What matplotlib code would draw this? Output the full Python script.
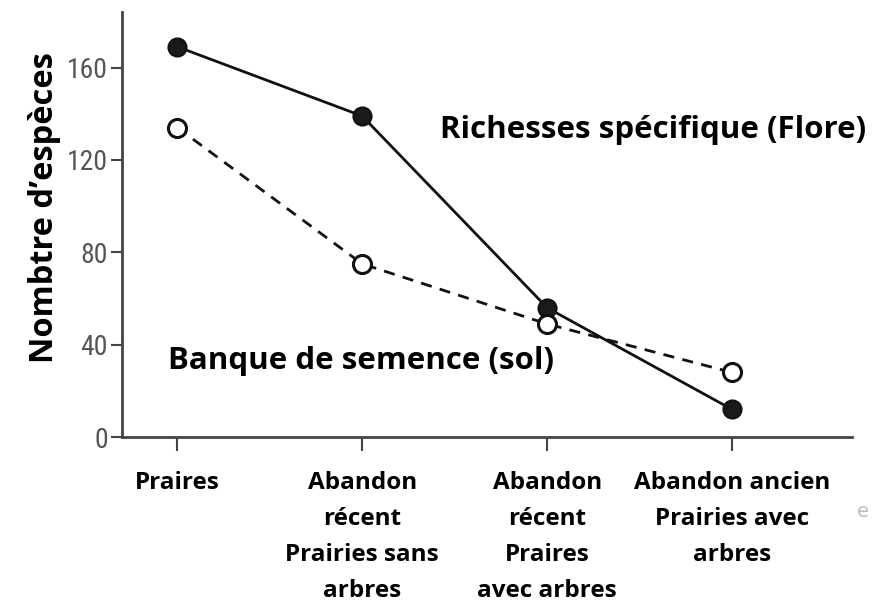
import matplotlib
matplotlib.use("Agg")
import matplotlib.pyplot as plt

categories = ["Praires",
              "Abandon\nrécent\nPrairies sans\narbres",
              "Abandon\nrécent\nPraires\navec arbres",
              "Abandon ancien\nPrairies avec\narbres"]
richesse = [169, 139, 56, 12]
banque = [134, 75, 49, 28]
yticks = [0, 40, 80, 120, 160]

bold = ['Open Sans', 'DejaVu Sans']
narrow = ['Roboto Condensed', 'Liberation Sans Narrow', 'Roboto', 'DejaVu Sans']

fig = plt.figure(figsize=(8.76, 6.03), dpi=100)
ax = fig.add_axes([0.139, 0.275, 0.834, 0.705])
x = list(range(len(categories)))

ax.plot(x, richesse, '-', color='#111111', lw=2, marker='o', ms=13,
        mfc='#1a1a1a', mec='#111111', mew=1.5, zorder=3)
ax.plot(x, banque, '--', color='#111111', lw=2, dashes=(4, 3), marker='o', ms=13,
        mfc='white', mec='#111111', mew=2.2, zorder=3)

ax.set_xlim(-0.3, 3.65)
ax.set_ylim(0, 184)
ax.set_yticks(yticks)
ax.set_yticklabels([str(v) for v in yticks], family=narrow, fontsize=20, color='#555555')
ax.set_xticks(x)
ax.set_xticklabels(categories, family=bold, fontweight='bold',
                   fontsize=17.5, linespacing=1.68, va='top')
ax.tick_params(axis='x', length=10, width=1.5, color='#444444', pad=14)
ax.tick_params(axis='y', length=8, width=1.5, color='#444444', pad=2)
for s in ['top', 'right']:
    ax.spines[s].set_visible(False)
for s in ['left', 'bottom']:
    ax.spines[s].set_linewidth(2)
    ax.spines[s].set_color('#444444')

fig.text(0.051, 0.655, "Nombtre d\u2019espèces", rotation=90, ha='center', va='center',
         family=bold, fontweight='bold', fontsize=23.5)
fig.text(0.502, 0.785, "Richesses spécifique (Flore)", ha='left', va='center',
         family=bold, fontweight='bold', fontsize=22.5)
fig.text(0.192, 0.402, "Banque de semence (sol)", ha='left', va='center',
         family=bold, fontweight='bold', fontsize=22.5)
fig.text(0.985, 0.152, "e", ha='center', va='center', color='#bbbbbb', fontsize=14)

fig.savefig("out.png", dpi=100)
